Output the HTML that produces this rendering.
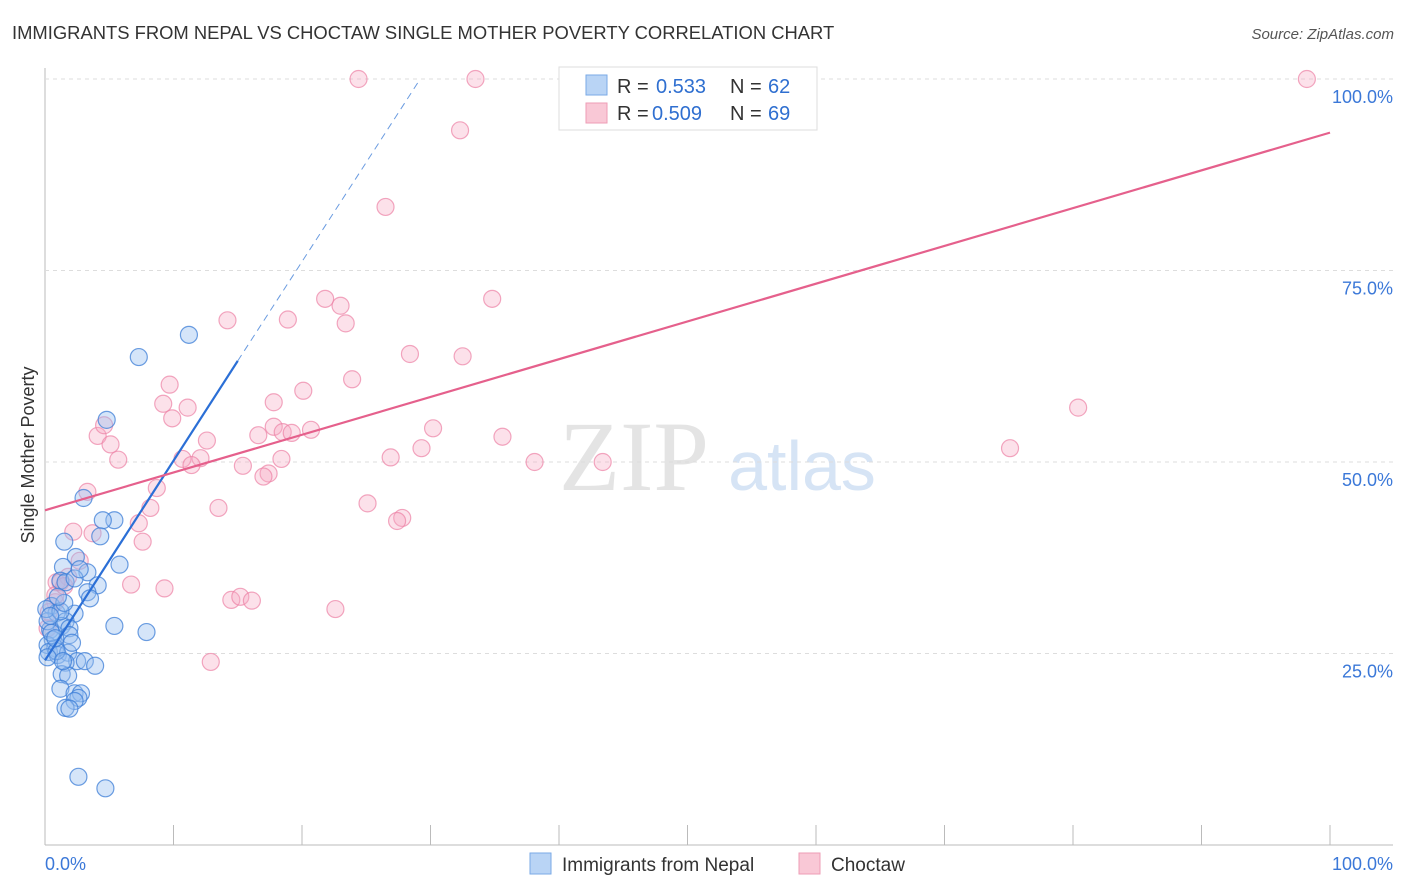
<!DOCTYPE html>
<html><head><meta charset="utf-8"><style>
body{margin:0;background:#fff;font-family:"Liberation Sans",sans-serif}
svg{display:block}
</style></head><body>
<svg id="c" width="1406" height="892">
<text x="12" y="39" font-size="18.4" fill="#333">IMMIGRANTS FROM NEPAL VS CHOCTAW SINGLE MOTHER POVERTY CORRELATION CHART</text>
<text x="1394" y="39" font-size="15" fill="#555" font-style="italic" text-anchor="end">Source: ZipAtlas.com</text>
<text x="634" y="490" font-size="100" fill="#e4e4e4" font-family="Liberation Serif" text-anchor="middle">ZIP</text>
<text x="802" y="490" font-size="70" fill="#d6e4f5" text-anchor="middle">atlas</text>
<g id="grid"></g><g id="pts"></g><g id="lines"></g>
<text transform="translate(34,455) rotate(-90)" font-size="18" fill="#333" text-anchor="middle">Single Mother Poverty</text>
<g>
<rect x="559" y="67" width="258" height="63" fill="#fff" stroke="#ddd"/>
<rect x="586" y="75" width="21" height="20" fill="#b9d4f5" stroke="#7aaae6"/>
<rect x="586" y="103" width="21" height="20" fill="#f9c8d6" stroke="#ee9db6"/>
<text x="617" y="93" font-size="20" fill="#333">R =</text>
<text x="656" y="93" font-size="20" fill="#2f6fd0">0.533</text>
<text x="730" y="93" font-size="20" fill="#333">N =</text>
<text x="768" y="93" font-size="20" fill="#2f6fd0">62</text>
<text x="617" y="120" font-size="20" fill="#333">R =</text>
<text x="652" y="120" font-size="20" fill="#2f6fd0">0.509</text>
<text x="730" y="120" font-size="20" fill="#333">N =</text>
<text x="768" y="120" font-size="20" fill="#2f6fd0">69</text>
</g>
<g>
<rect x="530" y="853" width="21" height="21" fill="#b9d4f5" stroke="#7aaae6"/>
<text x="562" y="871" font-size="19" fill="#333">Immigrants from Nepal</text>
<rect x="799" y="853" width="21" height="21" fill="#f9c8d6" stroke="#ee9db6"/>
<text x="831" y="871" font-size="19" fill="#333">Choctaw</text>
</g>
<text x="45" y="870" font-size="18" fill="#3b78d8">0.0%</text>
<text x="1393" y="870" font-size="18" fill="#3b78d8" text-anchor="end">100.0%</text>
</svg>
<script>
const yTicks=[100,75,50,25];
const yTickLabels=["100.0%","75.0%","50.0%","25.0%"];
const xTicks=[0,10,20,30,40,50,60,70,80,90,100];
const nepalX=[7.3,11.2,4.8,3.0,5.4,4.5,4.3,1.5,2.4,1.4,3.3,5.8,1.2,1.6,2.3,4.1,3.3,0.5,0.9,2.3,1.6,1.3,1.9,1.9,0.4,0.6,0.2,0.8,0.3,1.0,1.8,5.4,7.9,2.5,3.1,3.9,1.6,1.3,1.8,1.2,2.3,2.8,2.6,2.3,1.6,1.9,2.6,4.7,0.2,0.1,1.2,0.5,0.9,1.5,2.1,0.2,1.0,2.7,3.5,0.8,1.4,0.4];
const nepalY=[63.7,66.6,55.5,45.3,42.4,42.4,40.3,39.6,37.6,36.3,35.6,36.6,34.5,34.3,34.8,33.9,33.0,31.2,30.3,30.2,29.2,28.6,28.3,27.4,28.1,26.8,26.1,25.7,25.2,24.8,25.1,28.6,27.8,24.0,24.0,23.4,23.8,22.3,22.1,20.4,19.8,19.8,19.2,18.8,17.9,17.8,8.9,7.4,29.2,30.8,30.5,27.7,25.3,31.6,26.4,24.5,32.4,36.0,32.2,27.0,24.0,29.9];
const choctawX=[24.4,33.5,98.2,45.5,32.3,26.5,21.8,23.0,34.8,14.2,18.9,23.4,28.4,32.5,9.7,23.9,20.1,17.8,9.2,11.1,9.9,17.8,20.7,18.5,19.2,16.6,12.6,4.1,4.6,5.1,30.2,35.6,29.3,80.4,75.1,10.7,12.1,5.7,11.4,15.4,18.4,26.9,38.1,43.4,17.4,17.0,8.7,3.3,8.2,13.5,25.1,7.3,2.2,3.7,27.8,27.4,7.6,2.7,1.8,0.9,0.8,6.7,9.3,14.5,15.2,16.1,22.6,12.9,0.3,0.2,0.8,1.2,1.5];
const choctawY=[100,100,100,100,93.3,83.3,71.3,70.4,71.3,68.5,68.6,68.1,64.1,63.8,60.1,60.8,59.3,57.8,57.6,57.1,55.7,54.6,54.2,53.9,53.8,53.5,52.8,53.4,54.8,52.3,54.4,53.3,51.8,57.1,51.8,50.4,50.5,50.3,49.6,49.5,50.4,50.6,50.0,50.0,48.5,48.1,46.6,46.1,44.0,44.0,44.6,42.0,40.9,40.7,42.7,42.3,39.6,37.1,35.0,34.3,31.7,34.0,33.5,32.0,32.4,31.9,30.8,23.9,30.4,28.3,32.6,34.3,33.8];
const nepalTrend=[[0,24.1],[15,63.2]], nepalDash=[[15,63.2],[29.2,100]];
const choctawTrend=[[0,43.7],[100,93]];
const NS='http://www.w3.org/2000/svg';
const X=v=>45+v*12.85, Y=v=>845-v*7.66;
function mk(t,a,p){const e=document.createElementNS(NS,t);for(const k in a)e.setAttribute(k,a[k]);p.appendChild(e);return e;}
const grid=document.getElementById('grid');
mk('line',{x1:45,y1:845,x2:1393,y2:845,stroke:'#bbb'},grid);
mk('line',{x1:45,y1:68,x2:45,y2:845,stroke:'#bbb'},grid);
yTicks.forEach((t,i)=>{
 const l=mk('line',{x1:45,y1:Y(t),x2:1393,y2:Y(t),stroke:'#ddd','stroke-dasharray':'4,4'},grid);
 
 
 const tx=mk('text',{x:1393,y:Y(t)+24,'font-size':18,fill:'#3b78d8','text-anchor':'end'},grid);
 tx.textContent=yTickLabels[i];
 
 
});
xTicks.forEach(t=>{
 const l=mk('line',{x1:X(t),y1:825,x2:X(t),y2:845,stroke:'#bbb'},grid);
 
 
});
const pts=document.getElementById('pts');
choctawX.forEach((v,i)=>{
 const c=mk('circle',{cx:X(v),cy:Y(choctawY[i]),r:8.5,fill:'rgba(246,170,195,0.35)',stroke:'rgba(236,130,165,0.7)','stroke-width':1.2},pts);
 
 
});
nepalX.forEach((v,i)=>{
 const c=mk('circle',{cx:X(v),cy:Y(nepalY[i]),r:8.5,fill:'rgba(150,190,240,0.4)',stroke:'rgba(60,125,215,0.75)','stroke-width':1.2},pts);
 
 
});
const lines=document.getElementById('lines');
const l1=mk('line',{x1:X(nepalTrend[0][0]),y1:Y(nepalTrend[0][1]),x2:X(nepalTrend[1][0]),y2:Y(nepalTrend[1][1]),stroke:'#2b6fd6','stroke-width':2.2},lines);


const l2=mk('line',{x1:X(nepalDash[0][0]),y1:Y(nepalDash[0][1]),x2:X(nepalDash[1][0]),y2:Y(nepalDash[1][1]),stroke:'#6a9be0','stroke-width':1,'stroke-dasharray':'7,5'},lines);


const l3=mk('line',{x1:X(choctawTrend[0][0]),y1:Y(choctawTrend[0][1]),x2:X(choctawTrend[1][0]),y2:Y(choctawTrend[1][1]),stroke:'#e5608c','stroke-width':2.2},lines);


</script>
</body></html>
